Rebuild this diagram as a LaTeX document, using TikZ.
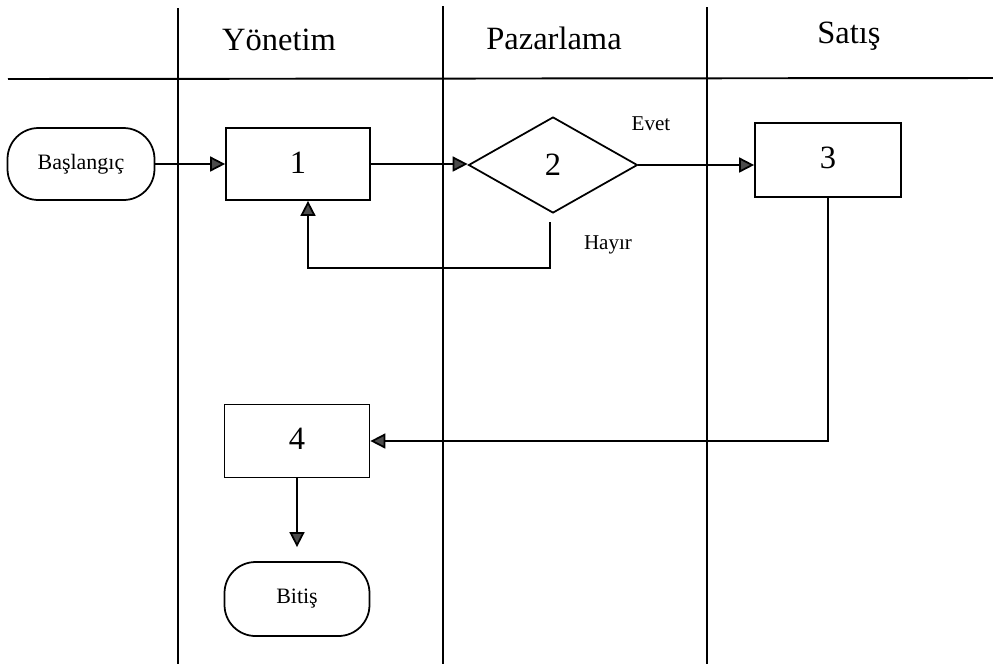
\documentclass[tikz,border=0pt]{standalone}
\usepackage{fontspec}
\setmainfont{Liberation Serif}
\usetikzlibrary{arrows.meta,shapes.geometric}

\tikzset{
  lane/.style={line width=1.1pt},
  head/.style={font=\fontsize{18.5}{21}\selectfont},
  procbox/.style={draw, line width=1pt, rectangle, minimum width=2.9cm, minimum height=1.46cm,
    inner sep=0pt, font=\fontsize{18.5}{20}\selectfont},
  term/.style={draw, line width=1pt, rectangle, rounded corners=0.62cm, minimum width=2.92cm,
    minimum height=1.46cm, inner sep=0pt, font=\fontsize{12.5}{14}\selectfont},
  decision/.style={draw, line width=1pt, diamond, minimum width=3.38cm, minimum height=1.92cm,
    inner sep=0pt, font=\fontsize{18.5}{20}\selectfont},
  lbl/.style={font=\fontsize{12}{13}\selectfont},
  arr/.style={line width=1pt, -{Triangle[length=8.5pt,width=8.5pt,fill=black!70]}},
}

\begin{document}
\begin{tikzpicture}[x=0.02cm, y=-0.02cm]
  \useasboundingbox (0,0) rectangle (993,664);

  % swimlane grid
  \draw[lane] (178,8) -- (178,664);
  \draw[lane] (443,6) -- (443,664);
  \draw[lane] (707,7) -- (707,664);
  \draw[lane] (8,79) -- (993,78);

  % lane headers
  \node[head] (hy) at (279,40) {Yönetim};
  \node[head] (hp) at (554,38) {Pazarlama};
  \node[head] (hs) at (849,36) {Satış};

  % flow nodes
  \node[term, minimum width=2.94cm, minimum height=1.44cm] (start) at (81,164) {Başlangıç};
  \node[procbox, minimum width=2.88cm, minimum height=1.44cm] (b1) at (298,164) {\raisebox{1pt}{1}};
  \node[decision] (d2) at (553,165) {2};
  \node[procbox, minimum width=2.92cm, minimum height=1.48cm] (b3) at (828,160) {\raisebox{3pt}{3}};
  \node[procbox] (b4) at (297,441) {\raisebox{2pt}{4}};
  \node[term, minimum width=2.9cm, minimum height=1.48cm] (end) at (297,599) {Bitiş};

  % branch labels
  \node[lbl] (evet) at (651,124) {Evet};
  \node[lbl] (hayir) at (608,245) {Hayır};

  % connectors
  \draw[arr] (start) -- (b1);
  \draw[arr] (b1.east) -- (b1.east -| d2.west);
  \draw[arr] (d2.east) -- (d2.east -| b3.west);

  \coordinate (h0) at (550,222);
  \coordinate (hx) at (308,268);
  \draw[arr] (h0) |- (hx) -- (hx |- b1.south);

  \draw[arr] (b3.south) |- (b4.east);
  \draw[arr, shorten >=8pt] (b4.south) -- (end.north);
\end{tikzpicture}
\end{document}
